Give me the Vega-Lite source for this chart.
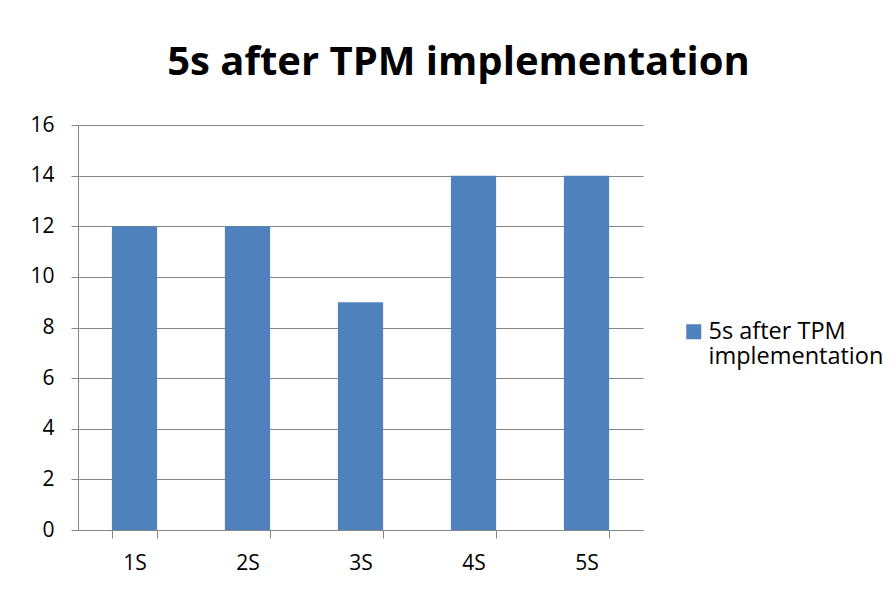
{
  "$schema": "https://vega.github.io/schema/vega-lite/v6.json",
  "width": 565,
  "height": 405,
  "autosize": {"type": "none"},
  "padding": {"left": 78, "top": 125, "right": 253, "bottom": 60},
  "background": "white",
  "title": {
    "text": "5s after TPM implementation",
    "font": "Open Sans",
    "fontSize": 40,
    "fontWeight": "bold",
    "color": "#000000",
    "anchor": "middle",
    "dx": 98,
    "baseline": "alphabetic",
    "offset": -1
  },
  "data": {
    "values": [
      {"cat": "1S", "value": 12, "series": "5s after TPM implementation"},
      {"cat": "2S", "value": 12, "series": "5s after TPM implementation"},
      {"cat": "3S", "value": 9, "series": "5s after TPM implementation"},
      {"cat": "4S", "value": 14, "series": "5s after TPM implementation"},
      {"cat": "5S", "value": 14, "series": "5s after TPM implementation"}
    ]
  },
  "mark": {"type": "bar"},
  "encoding": {
    "x": {
      "field": "cat",
      "type": "nominal",
      "sort": null,
      "title": null,
      "scale": {"paddingInner": 0.6, "paddingOuter": 0.3},
      "axis": {
        "labelAngle": 0,
        "tickBand": "extent",
        "tickSize": 8,
        "tickColor": "#868686",
        "domainColor": "#868686",
        "labelFont": "Open Sans",
        "labelFontSize": 21,
        "labelColor": "#000000",
        "labelPadding": 14
      }
    },
    "y": {
      "field": "value",
      "type": "quantitative",
      "title": null,
      "scale": {"domain": [0, 16]},
      "axis": {
        "values": [0, 2, 4, 6, 8, 10, 12, 14, 16],
        "tickSize": 7,
        "tickColor": "#868686",
        "domainColor": "#868686",
        "gridColor": "#868686",
        "labelFont": "Open Sans",
        "labelFontSize": 21,
        "labelColor": "#000000",
        "labelPadding": 17
      }
    },
    "color": {
      "field": "series",
      "type": "nominal",
      "scale": {"range": ["#4F81BD"]},
      "legend": {
        "title": null,
        "orient": "none",
        "legendX": 604,
        "legendY": 195,
        "symbolType": "square",
        "symbolSize": 225,
        "symbolStrokeWidth": 0,
        "labelFont": "Open Sans",
        "labelFontSize": 23.5,
        "labelColor": "#000000",
        "labelExpr": "['5s after TPM', 'implementation']",
        "labelLimit": 300,
        "labelOffset": 3,
        "labelLineHeight": 28
      }
    }
  },
  "config": {
    "view": {"stroke": null},
    "axis": {"domainWidth": 1, "gridWidth": 1}
  }
}
